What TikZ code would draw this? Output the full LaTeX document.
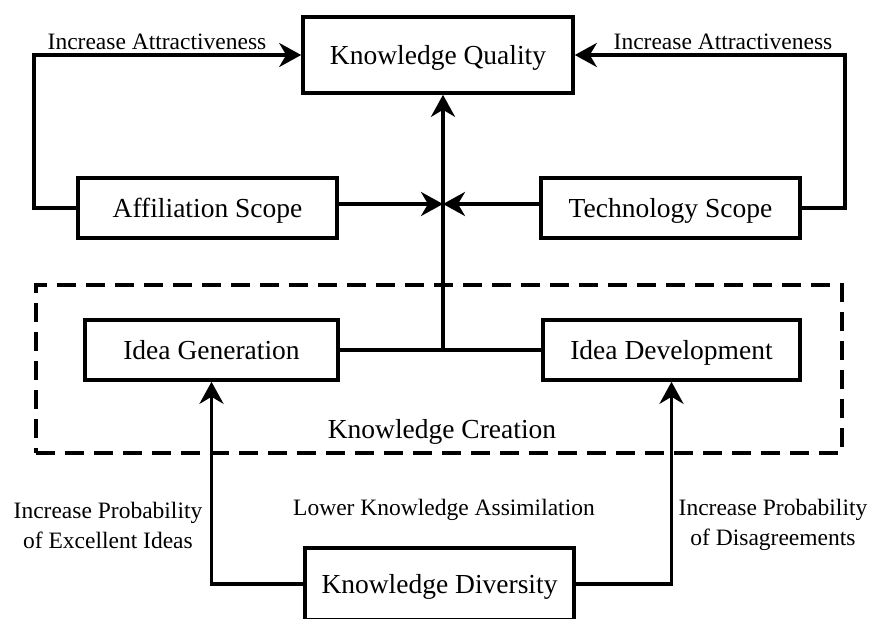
\documentclass[tikz,border=0pt]{standalone}
\usepackage{fontspec}
\setmainfont{Liberation Serif}
\usepackage{tikz}
\usetikzlibrary{arrows.meta,positioning}
\newcommand{\boxfont}{\fontsize{27.5}{30}\selectfont}
\newcommand{\labfont}{\fontsize{23.5}{30}\selectfont}

\begin{document}
\begin{tikzpicture}[x=1pt, y=-1pt, line width=3.6pt,
  blk/.style={draw, rectangle, font=\boxfont, inner sep=0pt, minimum height=60pt,
    text height=18pt, text depth=0pt},
  lab/.style={font=\labfont, align=center, inner sep=0pt},
  conn/.style={-{Stealth[length=22pt, width=24pt, inset=7pt]}},
  grp/.style={draw, dashed, dash pattern=on 19pt off 10pt, rectangle, inner sep=0pt}]
\useasboundingbox (0,0) rectangle (871,619);
% grouping frame
\node (creation) [grp, minimum width=806pt, minimum height=168pt] at (439,369) {};
\node (creationlab) [font=\boxfont, inner sep=0pt] at (442,432) {Knowledge Creation};
% blocks
\node (quality) [blk, minimum width=270pt, minimum height=76pt] at (438,55) {Knowledge Quality};
\node (affil) [blk, minimum width=259pt] at (207.5,208) {Affiliation Scope};
\node (tech) [blk, minimum width=259pt] at (670.5,208) {Technology Scope};
\node (gen) [blk, minimum width=253pt] at (211.5,350) {Idea Generation};
\node (dev) [blk, minimum width=257pt] at (671.5,350) {Idea Development};
\node (diver) [blk, minimum width=269pt, minimum height=72pt] at (439.5,584) {Knowledge Diversity};
\coordinate (j) at (443,204);
% labels
\node (attrl) [lab] at (157,42) {Increase Attractiveness};
\node (attrr) [lab] at (723,42) {Increase Attractiveness};
\node (probl) [lab] at (108,525) {Increase Probability\\of Excellent Ideas};
\node (probr) [lab] at (773,525) {Increase Probability\\of Disagreements};
\node (assim) [lab] at (444,510) {Lower Knowledge Assimilation};
% connectors
\draw[conn] (affil.west) -- ++(-42,0) |- (quality.west);
\draw[conn] (tech.east) -- ++(43,0) |- (quality.east);
\draw[conn] (affil.east |- j) -- (j);
\draw[conn] (tech.west |- j) -- (j);
\draw (gen.east) -- (dev.west);
\draw[conn] (j |- gen.east) -- (j |- quality.south);
\draw[conn] (diver.west) -| (gen.south);
\draw[conn] (diver.east) -| (dev.south);
\end{tikzpicture}
\end{document}
